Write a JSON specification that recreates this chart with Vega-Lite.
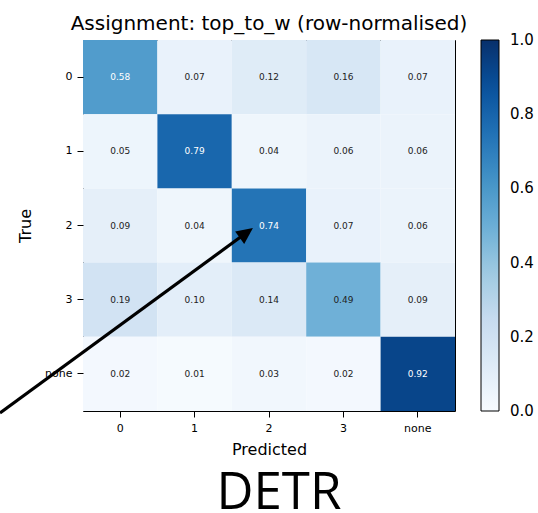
{
  "$schema": "https://vega.github.io/schema/vega-lite/v6.json",
  "width": 372,
  "height": 371,
  "autosize": {"type": "none"},
  "padding": {"left": 83, "top": 40, "right": 83, "bottom": 102},
  "background": "white",
  "title": {"text": "Assignment: top_to_w (row-normalised)", "fontSize": 20, "font": "DejaVu Sans", "fontWeight": "normal", "color": "black", "offset": 6, "anchor": "middle"},
  "config": {
    "view": {"stroke": "black", "strokeWidth": 1},
    "axis": {"labelFont": "DejaVu Sans", "labelFontSize": 11, "labelColor": "black", "titleFont": "DejaVu Sans", "titleFontSize": 16, "titleFontWeight": "normal", "titleColor": "black", "tickColor": "black", "tickSize": 6, "labelPadding": 5, "domain": false, "grid": false},
    "legend": {"labelFont": "DejaVu Sans", "labelFontSize": 15, "labelColor": "black"}
  },
  "layer": [
    {
      "data": {"values": [
        {"actual": "0", "pred": "0", "value": 0.58}, {"actual": "0", "pred": "1", "value": 0.07}, {"actual": "0", "pred": "2", "value": 0.12}, {"actual": "0", "pred": "3", "value": 0.16}, {"actual": "0", "pred": "none", "value": 0.07},
        {"actual": "1", "pred": "0", "value": 0.05}, {"actual": "1", "pred": "1", "value": 0.79}, {"actual": "1", "pred": "2", "value": 0.04}, {"actual": "1", "pred": "3", "value": 0.06}, {"actual": "1", "pred": "none", "value": 0.06},
        {"actual": "2", "pred": "0", "value": 0.09}, {"actual": "2", "pred": "1", "value": 0.04}, {"actual": "2", "pred": "2", "value": 0.74}, {"actual": "2", "pred": "3", "value": 0.07}, {"actual": "2", "pred": "none", "value": 0.06},
        {"actual": "3", "pred": "0", "value": 0.19}, {"actual": "3", "pred": "1", "value": 0.10}, {"actual": "3", "pred": "2", "value": 0.14}, {"actual": "3", "pred": "3", "value": 0.49}, {"actual": "3", "pred": "none", "value": 0.09},
        {"actual": "none", "pred": "0", "value": 0.02}, {"actual": "none", "pred": "1", "value": 0.01}, {"actual": "none", "pred": "2", "value": 0.03}, {"actual": "none", "pred": "3", "value": 0.02}, {"actual": "none", "pred": "none", "value": 0.92}
      ]},
      "encoding": {
        "x": {"field": "pred", "type": "ordinal", "sort": ["0", "1", "2", "3", "none"], "scale": {"paddingInner": 0, "paddingOuter": 0}, "axis": {"title": "Predicted", "labelAngle": 0, "titlePadding": 8}},
        "y": {"field": "actual", "type": "ordinal", "sort": ["0", "1", "2", "3", "none"], "scale": {"paddingInner": 0, "paddingOuter": 0}, "axis": {"title": "True", "titlePadding": 11}}
      },
      "layer": [
        {
          "mark": {"type": "rect"},
          "encoding": {
            "color": {"field": "value", "type": "quantitative",
              "scale": {"domain": [0, 0.125, 0.25, 0.375, 0.5, 0.625, 0.75, 0.875, 1], "range": ["#f7fbff", "#deebf7", "#c6dbef", "#9ecae1", "#6baed6", "#4292c6", "#2171b5", "#08519c", "#08306b"], "interpolate": "rgb"},
              "legend": {"type": "gradient", "title": null, "orient": "right", "offset": 26, "direction": "vertical", "gradientLength": 371, "gradientThickness": 18, "gradientStrokeColor": "black", "gradientStrokeWidth": 1, "labelOffset": 11, "values": [0, 0.2, 0.4, 0.6, 0.8, 1], "format": ".1f", "labelOverlap": false, "padding": 0,
                "encode": {"labels": {"update": {"baseline": {"value": "middle"}}}}}
            }
          }
        },
        {
          "mark": {"type": "text", "font": "DejaVu Sans", "fontSize": 9},
          "encoding": {
            "text": {"field": "value", "type": "quantitative", "format": ".2f"},
            "color": {"condition": {"test": "datum.value > 0.5", "value": "white"}, "value": "#222222"}
          }
        }
      ]
    },
    {
      "data": {"values": [
        {"kind": "arrow", "x": -1.616, "y": 4.527, "x2": 1.70, "y2": 2.095, "label": ""},
        {"kind": "head", "x": 1.695, "y": 2.10, "label": ""},
        {"kind": "caption", "x": 2.134, "y": 5.82, "label": "DETR"}
      ]},
      "encoding": {
        "x": {"field": "x", "type": "quantitative", "scale": {"domain": [-0.5, 4.5], "nice": false, "zero": false}, "axis": null},
        "y": {"field": "y", "type": "quantitative", "scale": {"domain": [-0.5, 4.5], "nice": false, "zero": false, "reverse": true}, "axis": null}
      },
      "layer": [
        {
          "transform": [{"filter": "datum.kind === 'arrow'"}],
          "mark": {"type": "rule", "color": "black", "strokeWidth": 3.2, "strokeCap": "butt"},
          "encoding": {"x2": {"field": "x2"}, "y2": {"field": "y2"}}
        },
        {
          "transform": [{"filter": "datum.kind === 'head'"}],
          "mark": {"type": "point", "shape": "M0,-1L-0.93,1L0.93,1Z", "filled": true, "color": "black", "opacity": 1, "size": 270, "angle": 53.8}
        },
        {
          "transform": [{"filter": "datum.kind === 'caption'"}],
          "mark": {"type": "text", "font": "Open Sans", "fontSize": 51, "align": "center", "baseline": "alphabetic", "color": "black"},
          "encoding": {"text": {"field": "label"}}
        }
      ]
    }
  ],
  "resolve": {"scale": {"x": "independent", "y": "independent"}}
}
